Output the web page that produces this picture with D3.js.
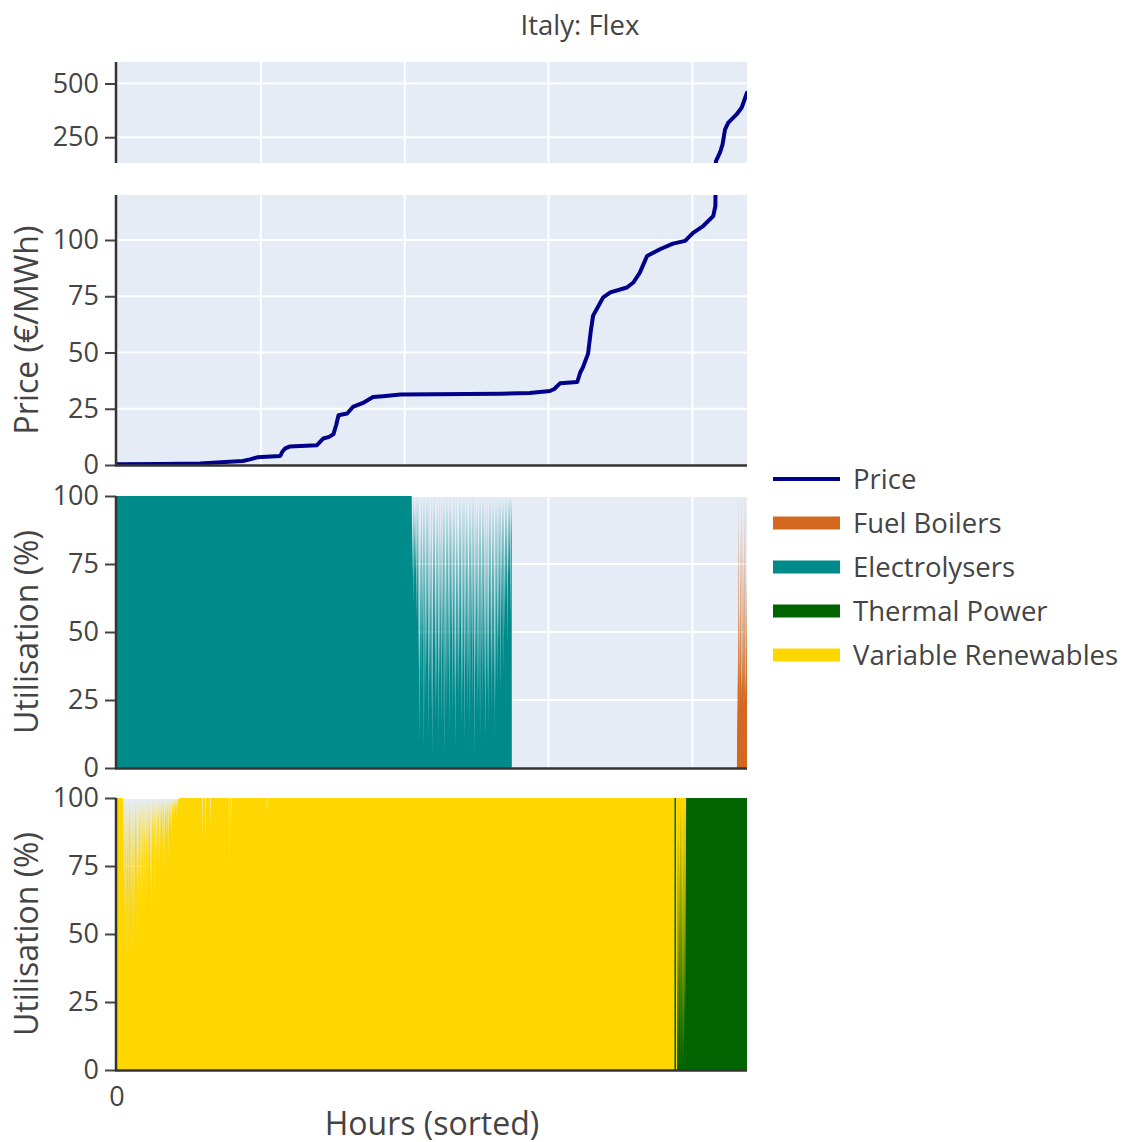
<!DOCTYPE html>
<html><head><meta charset="utf-8">
<script src="https://cdn.jsdelivr.net/npm/d3@7"></script>
<style>
body{margin:0;background:#fff;}
text{font-family:"Open Sans",sans-serif;fill:#444;}
</style>
</head><body>
<svg id="chart" width="1128" height="1142"></svg>
<script>
// ---------------- DATA ----------------
const chartTitle = "Italy: Flex";
const hoursMax = 8760;
const xGridHours = [0, 2000, 4000, 6000, 8000];
const xTickLabels = ["0"];
const priceUpperTicks = [250, 500];
const priceLowerTicks = [0, 25, 50, 75, 100];
const utilTicks = [0, 25, 50, 75, 100];

const seriesNames = ["Price", "Fuel Boilers", "Electrolysers", "Thermal Power", "Variable Renewables"];
const seriesColors = ["#00008B", "#D2691E", "#008B8B", "#006400", "#FFD700"];

// Price duration curve (sorted hours, €/MWh)
const priceHours = [0, 600, 1150, 1750, 1850, 1950, 2270, 2300, 2340, 2400, 2780, 2870, 2950, 3010, 3050, 3080, 3200, 3280, 3420, 3560, 3700, 3940, 5330, 5740, 6020, 6080, 6160, 6400, 6440, 6480, 6550, 6590, 6620, 6700, 6760, 6860, 7090, 7180, 7270, 7370, 7550, 7730, 7900, 8010, 8150, 8290, 8320, 8330, 8385, 8420, 8455, 8500, 8615, 8685, 8760];
const priceValues = [0.3, 0.5, 0.7, 1.8, 2.5, 3.4, 4.0, 6.0, 7.4, 8.2, 8.8, 11.8, 12.5, 13.7, 18.0, 22.1, 22.9, 25.8, 27.6, 30.2, 30.6, 31.3, 31.7, 32.0, 32.9, 33.8, 36.3, 36.9, 41.0, 43.5, 49.5, 60.0, 66.4, 71.0, 74.5, 76.7, 78.9, 81.1, 85.5, 92.9, 95.9, 98.4, 99.6, 103.2, 106.2, 110.6, 115, 140, 179, 217, 287, 318, 356, 387, 457];

// Electrolysers utilisation (%)
const elecFullUntil = 4088;           // 100 % up to this hour
const elecSpikeStep = 10;             // hours between readings in the mixed zone
const elecSpikes = [
100,70,100,60,95,72,100,55,100,35,
100,10,90,28,100,45,100,8,100,25,
100,38,100,12,100,30,85,20,100,5,
100,42,100,18,95,25,100,10,100,32,
90,15,100,40,100,6,100,28,100,20,
100,35,100,12,100,48,95,18,100,25,
100,8,100,30,90,22,100,40,100,15,
100,26,100,10,100,36,100,20,95,30,
100,14,100,44,100,24,100,6,100,34,
95,18,100,28,100,12,100,38,100,22,
100,30,100,10,90,26,100,16,100,40,
100,20,100,34,100,14,100,24,100,30,
100,45,100,28,100,55,100,35,100,50,
100,60,100,45,100,70,100,55,100,85];

// Fuel boilers utilisation (%), last hours
const boilerStart = 8620;
const boilerStep = 7;
const boilerValues = [0, 40, 15, 100, 30, 60, 20, 90, 35, 25, 100, 45, 30, 80, 20, 55, 100, 35, 25, 70, 40];

// Variable renewables utilisation (%)
const renewDenseStart = 84;
const renewDenseStep = 6;
const renewDense = [
100,70,100,55,100,80,100,40,100,62,
100,75,100,48,100,85,100,58,100,66,
100,42,100,78,100,60,100,50,100,82,
100,68,100,45,100,72,100,56,100,88,
100,64,100,52,100,76,100,60,100,84,
100,58,100,70,100,80,100,62,100,74,
100,86,100,66,100,55,100,78,100,90,
100,70,100,84,100,60,100,76,100,88,
100,74,100,92,100,68,100,82,100,90,
100,80,100,94,100,72,100,86,100,92,
100,84,100,90,100,78,100,94,100,88,
100,92,100,86,100,96,100,90,100,95,
100,97,100,93,100,98,100,96,100,99,
100,100];
const renewDipHours = [1190, 1230, 1300, 1560, 1590, 2086];
const renewDipValues = [85, 82, 90, 76, 88, 94];

// Thermal power utilisation (%)
const thermalLineStart = 7752;
const thermalLineEnd = 7772;
const thermalMixStart = 7787;
const thermalMixStep = 6;
const thermalMix = [0, 90, 5, 100, 0, 80, 10, 100, 0, 95, 5, 100, 0, 85, 8, 100, 0, 100, 10, 100, 20];

// ---------------- BUILD SERIES ----------------
const priceSeries = priceHours.map((h, i) => [h, priceValues[i]]);

const elecSeries = [[0, 100], [elecFullUntil, 100]];
elecSpikes.forEach((v, i) => elecSeries.push([elecFullUntil + (i + 1) * elecSpikeStep, v]));
const elecEnd = elecFullUntil + elecSpikes.length * elecSpikeStep;
elecSeries.push([elecEnd + 2, 0], [hoursMax, 0]);

const boilerSeries = [[0, 0], [boilerStart - 2, 0]];
boilerValues.forEach((v, i) => boilerSeries.push([boilerStart + i * boilerStep, v]));
boilerSeries.push([hoursMax, boilerValues[boilerValues.length - 1]]);

const renewSeries = [[0, 100], [renewDenseStart - 4, 100]];
renewDense.forEach((v, i) => renewSeries.push([renewDenseStart + i * renewDenseStep, v]));
renewDipHours.forEach((h, i) => { renewSeries.push([h - 5, 100], [h, renewDipValues[i]], [h + 5, 100]); });
renewSeries.push([hoursMax, 100]);
renewSeries.sort((a, b) => a[0] - b[0]);

const thermalSeries = [[0, 0], [thermalLineStart - 1, 0], [thermalLineStart, 100], [thermalLineEnd, 100], [thermalLineEnd + 1, 0], [thermalMixStart - 3, 0]];
thermalMix.forEach((v, i) => thermalSeries.push([thermalMixStart + i * thermalMixStep, v]));
const thermalMixEnd = thermalMixStart + thermalMix.length * thermalMixStep;
thermalSeries.push([thermalMixEnd, 100], [hoursMax, 100]);

// ---------------- DRAW ----------------
const svg = d3.select("#chart");
const L = 117, R = 747;
const x = d3.scaleLinear().domain([0, hoursMax]).range([L, R]);

const panels = [
  {id: "p1", top: 62, bottom: 163, domain: [130, 600], ticks: priceUpperTicks, bottomLine: false},
  {id: "p2", top: 195, bottom: 465, domain: [0, 120], ticks: priceLowerTicks, bottomLine: true, title: "Price (€/MWh)"},
  {id: "p3", top: 496, bottom: 768, domain: [0, 100], ticks: utilTicks, bottomLine: true, title: "Utilisation (%)"},
  {id: "p4", top: 798, bottom: 1070, domain: [0, 100], ticks: utilTicks, bottomLine: true, title: "Utilisation (%)"}
];

const defs = svg.append("defs");
panels.forEach(p => {
  p.y = d3.scaleLinear().domain(p.domain).range([p.bottom, p.top]);
  defs.append("clipPath").attr("id", "clip-" + p.id)
    .append("rect").attr("x", L).attr("y", p.top).attr("width", R - L).attr("height", p.bottom - p.top);
  const g = svg.append("g");
  p.g = g;
  g.append("rect").attr("x", L).attr("y", p.top).attr("width", R - L).attr("height", p.bottom - p.top).attr("fill", "#E5ECF6");
  g.selectAll(".vg").data(xGridHours.filter(h => h > 0)).enter().append("line")
    .attr("x1", d => x(d)).attr("x2", d => x(d)).attr("y1", p.top).attr("y2", p.bottom)
    .attr("stroke", "#fff").attr("stroke-width", 2);
  g.selectAll(".hg").data(p.ticks.filter(t => t > p.domain[0])).enter().append("line")
    .attr("x1", L).attr("x2", R).attr("y1", d => p.y(d)).attr("y2", d => p.y(d))
    .attr("stroke", "#fff").attr("stroke-width", 2);
  p.plot = g.append("g").attr("clip-path", "url(#clip-" + p.id + ")");
});

const area = y => d3.area().x(d => x(d[0])).y0(y(0)).y1(d => y(d[1]));
const line = y => d3.line().x(d => x(d[0])).y(d => y(d[1]));

[panels[0], panels[1]].forEach(p => {
  p.plot.append("path").datum(priceSeries).attr("d", line(p.y))
    .attr("fill", "none").attr("stroke", seriesColors[0]).attr("stroke-width", 4)
    .attr("stroke-linejoin", "round").attr("stroke-linecap", "round");
});
panels[2].plot.append("path").datum(elecSeries).attr("d", area(panels[2].y)).attr("fill", seriesColors[2]);
panels[2].plot.append("path").datum(boilerSeries).attr("d", area(panels[2].y)).attr("fill", seriesColors[1]);
panels[3].plot.append("path").datum(renewSeries).attr("d", area(panels[3].y)).attr("fill", seriesColors[4]);
panels[3].plot.append("path").datum(thermalSeries).attr("d", area(panels[3].y)).attr("fill", seriesColors[3]);

panels.forEach(p => {
  const ax = svg.append("g").attr("transform", `translate(${L - 1},0)`)
    .call(d3.axisLeft(p.y).tickValues(p.ticks).tickSize(11).tickPadding(6).tickSizeOuter(0));
  ax.select(".domain").remove();
  ax.selectAll(".tick line").attr("stroke", "#444").attr("stroke-width", 2);
  ax.selectAll(".tick text").style("font-size", "27px").style("font-family", '"Open Sans", sans-serif').attr("fill", "#444");
  svg.append("line").attr("x1", L - 1).attr("x2", L - 1).attr("y1", p.top).attr("y2", p.bottom + (p.bottomLine ? 1 : 0))
    .attr("stroke", "#333").attr("stroke-width", 2.5);
  if (p.bottomLine) {
    svg.append("line").attr("x1", L - 2).attr("x2", R).attr("y1", p.bottom + 0.5).attr("y2", p.bottom + 0.5)
      .attr("stroke", "#333").attr("stroke-width", 2.5);
  }
  if (p.title) {
    svg.append("text").attr("transform", `translate(27,${(p.top + p.bottom) / 2}) rotate(-90)`)
      .attr("text-anchor", "middle").attr("dy", "0.35em").style("font-size", "32px").text(p.title);
  }
});

svg.selectAll(".xtl").data(xTickLabels).enter().append("text")
  .attr("x", d => x(+d)).attr("y", 1097).attr("dy", "0.35em").attr("text-anchor", "middle")
  .style("font-size", "27px").text(d => d);
svg.append("text").attr("x", (L + R) / 2).attr("y", 1124).attr("dy", "0.35em").attr("text-anchor", "middle")
  .style("font-size", "32px").text("Hours (sorted)");

svg.append("text").attr("x", 580).attr("y", 25).attr("dy", "0.35em").attr("text-anchor", "middle")
  .style("font-size", "27.5px").text(chartTitle);

const leg = svg.append("g");
seriesNames.forEach((n, i) => {
  const cy = 479 + i * 44;
  if (i === 0) {
    leg.append("line").attr("x1", 773).attr("x2", 840).attr("y1", cy).attr("y2", cy)
      .attr("stroke", seriesColors[i]).attr("stroke-width", 4);
  } else {
    leg.append("rect").attr("x", 773).attr("y", cy - 6.5).attr("width", 67).attr("height", 13).attr("fill", seriesColors[i]);
  }
  leg.append("text").attr("x", 853).attr("y", cy).attr("dy", "0.35em").style("font-size", "27.5px").text(n);
});
</script>
</body></html>
